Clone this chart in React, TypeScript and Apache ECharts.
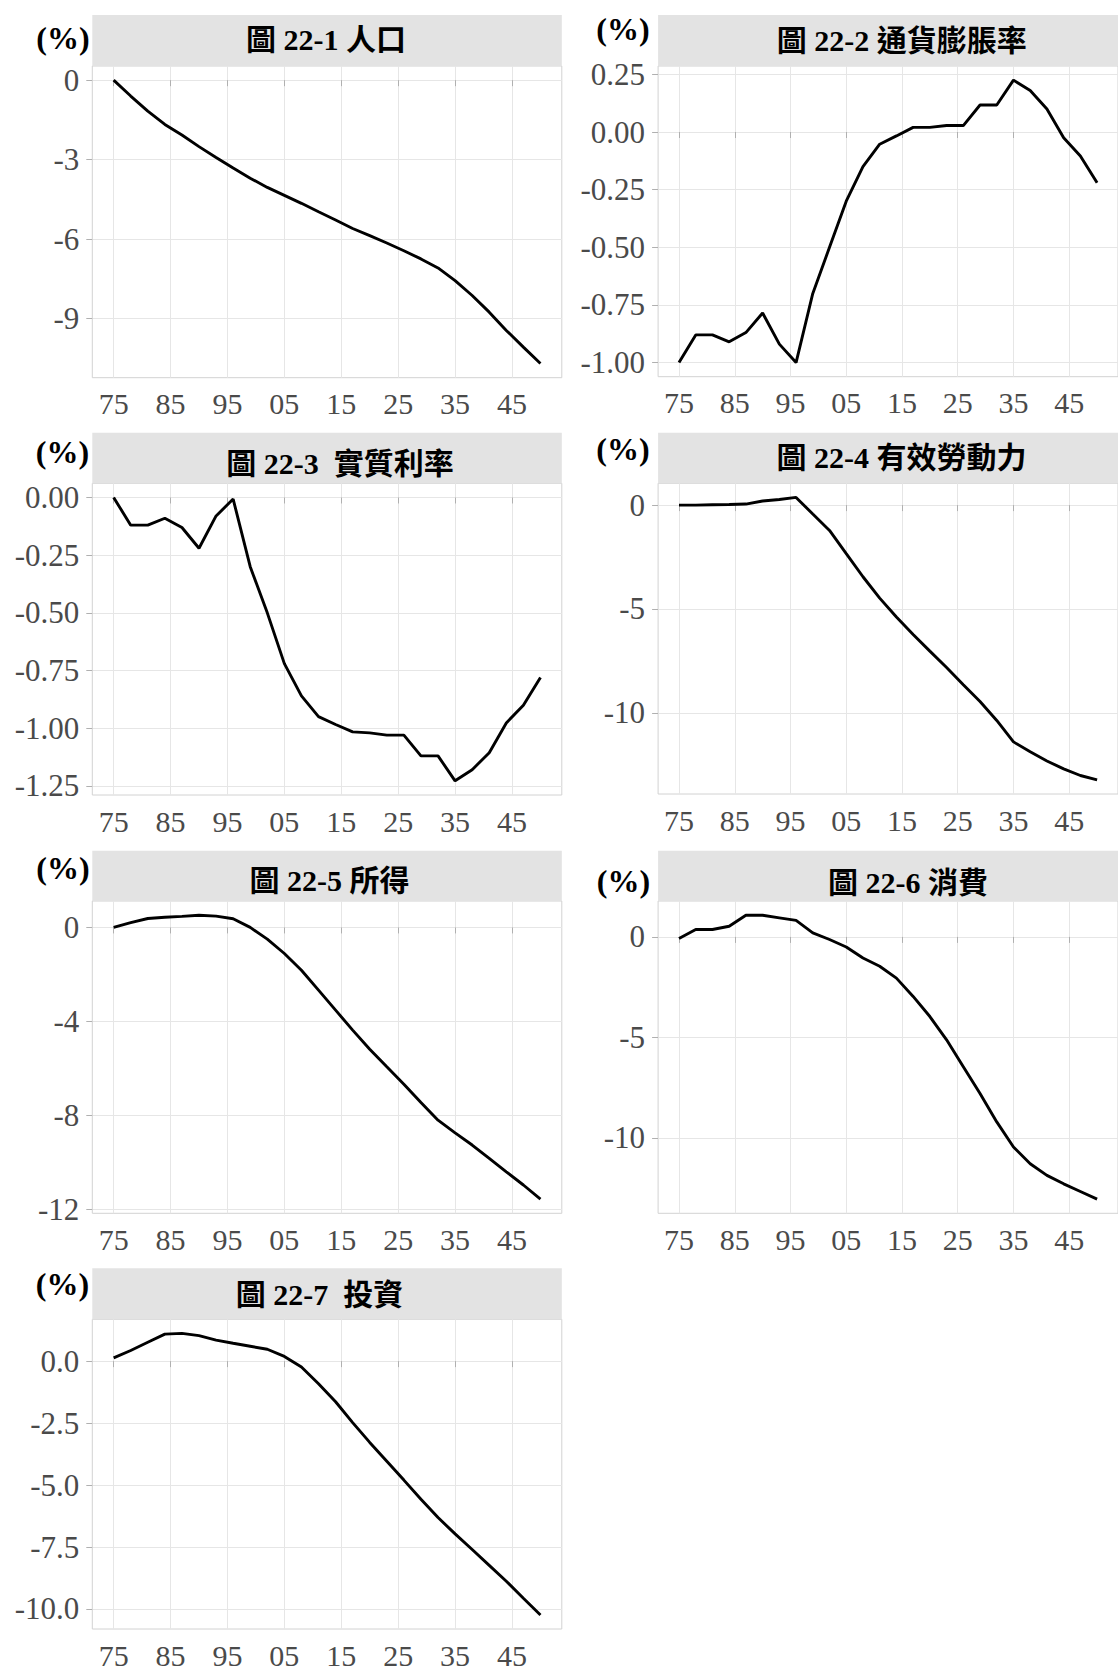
import React, { useEffect, useRef } from 'react';
import * as echarts from 'echarts';

// ---- data ----
const years = [1975, 1978, 1981, 1984, 1987, 1990, 1993, 1996, 1999, 2002, 2005, 2008, 2011, 2014, 2017, 2020, 2023, 2026, 2029, 2032, 2035, 2038, 2041, 2044, 2047, 2050];
const xTicks = [1975, 1985, 1995, 2005, 2015, 2025, 2035, 2045];

const population = [0, -0.6, -1.17, -1.67, -2.07, -2.51, -2.92, -3.32, -3.7, -4.05, -4.35, -4.65, -4.97, -5.28, -5.6, -5.87, -6.15, -6.44, -6.75, -7.09, -7.57, -8.13, -8.76, -9.45, -10.08, -10.7];
const inflation = [-1.0, -0.88, -0.88, -0.91, -0.87, -0.785, -0.92, -1.0, -0.7, -0.5, -0.3, -0.15, -0.053, -0.017, 0.02, 0.02, 0.028, 0.028, 0.117, 0.117, 0.225, 0.18, 0.1, -0.025, -0.104, -0.22];
const realRate = [0, -0.12, -0.12, -0.09, -0.13, -0.22, -0.08, -0.007, -0.3, -0.5, -0.72, -0.86, -0.95, -0.984, -1.016, -1.02, -1.03, -1.03, -1.12, -1.12, -1.228, -1.18, -1.106, -0.977, -0.9, -0.78];
const labor = [0, 0, 0.02, 0.03, 0.05, 0.2, 0.27, 0.37, -0.43, -1.22, -2.34, -3.45, -4.48, -5.39, -6.23, -7.03, -7.82, -8.65, -9.46, -10.37, -11.4, -11.88, -12.32, -12.7, -13.02, -13.23];
const income = [0, 0.2, 0.38, 0.43, 0.47, 0.52, 0.48, 0.37, 0, -0.5, -1.11, -1.82, -2.67, -3.52, -4.37, -5.18, -5.93, -6.67, -7.45, -8.2, -8.74, -9.26, -9.83, -10.4, -10.96, -11.56];
const consumption = [-0.08, 0.37, 0.37, 0.53, 1.08, 1.08, 0.95, 0.82, 0.2, -0.13, -0.5, -1.05, -1.46, -2.05, -2.96, -3.96, -5.12, -6.46, -7.79, -9.2, -10.45, -11.28, -11.86, -12.28, -12.66, -13.04];
const investment = [0.13, 0.43, 0.76, 1.09, 1.12, 1.03, 0.85, 0.72, 0.6, 0.48, 0.19, -0.24, -0.91, -1.64, -2.48, -3.28, -4.04, -4.8, -5.57, -6.31, -6.97, -7.6, -8.24, -8.88, -9.57, -10.24];

const titles = ['圖 22-1 人口', '圖 22-2 通貨膨脹率', '圖 22-3  實質利率', '圖 22-4 有效勞動力', '圖 22-5 所得', '圖 22-6 消費', '圖 22-7  投資'];
const unitLabel = '(%)';

const yTicks1 = [0, -3, -6, -9];
const yTicks2 = [0.25, 0, -0.25, -0.5, -0.75, -1];
const yTicks3 = [0, -0.25, -0.5, -0.75, -1, -1.25];
const yTicks4 = [0, -5, -10];
const yTicks5 = [0, -4, -8, -12];
const yTicks6 = [0, -5, -10];
const yTicks7 = [0, -2.5, -5, -7.5, -10];
const yDecimals = [0, 2, 2, 0, 0, 0, 1];

const seriesList = [population, inflation, realRate, labor, income, consumption, investment];
const yTickList = [yTicks1, yTicks2, yTicks3, yTicks4, yTicks5, yTicks6, yTicks7];

// ---- layout (px) ----
const LEFT_COL = { left: 92.3, width: 469.5 };
const RIGHT_COL = { left: 658.1, width: 468.2 };
const layout = [
  { col: LEFT_COL, stripTop: 15, top: 66, bottom: 377.7, tx: 326, ty: 39.5, ux: 63, uy: 37.5 },
  { col: RIGHT_COL, stripTop: 15, top: 66, bottom: 376.7, tx: 901.8, ty: 40, ux: 623, uy: 29 },
  { col: LEFT_COL, stripTop: 432.7, top: 483.3, bottom: 795, tx: 340, ty: 463, ux: 62.5, uy: 451.5 },
  { col: RIGHT_COL, stripTop: 432.7, top: 483.3, bottom: 794, tx: 901.4, ty: 457.5, ux: 623, uy: 449 },
  { col: LEFT_COL, stripTop: 850.7, top: 901, bottom: 1213.3, tx: 329.5, ty: 880.5, ux: 63, uy: 868 },
  { col: RIGHT_COL, stripTop: 850.7, top: 901, bottom: 1213.3, tx: 908, ty: 882, ux: 623.5, uy: 881 },
  { col: LEFT_COL, stripTop: 1268.3, top: 1319.3, bottom: 1630.7, tx: 319.6, ty: 1294, ux: 62.5, uy: 1284 },
];

const SERIF = "'Liberation Serif', 'Times New Roman', serif";
const TITLE_FONT = "'Liberation Serif', 'Noto Sans CJK TC', serif";
const LABEL_COLOR = '#4a4a4a';
const GRID_COLOR = '#e6e6e6';
const TICK_COLOR = '#b0b0b0';
const BORDER_COLOR = '#d2d2d2';
const STRIP_COLOR = '#e3e3e3';

function buildOption() {
  const grid: any[] = [];
  const xAxis: any[] = [];
  const yAxis: any[] = [];
  const series: any[] = [];
  const graphic: any[] = [];

  layout.forEach((p, i) => {
    const vals = seriesList[i];
    const lo = Math.min(...vals);
    const hi = Math.max(...vals);
    const pad = (hi - lo) * 0.05;
    const dec = yDecimals[i];

    grid.push({
      left: p.col.left,
      top: p.top,
      width: p.col.width,
      height: p.bottom - p.top,
      show: true,
      borderColor: BORDER_COLOR,
      borderWidth: 1,
      backgroundColor: '#ffffff',
    });
    xAxis.push({
      gridIndex: i,
      type: 'value',
      min: 1971.25,
      max: 2053.75,
      axisLine: { show: false },
      axisTick: { show: true, length: 6, customValues: xTicks, lineStyle: { color: TICK_COLOR, width: 1 } },
      axisLabel: {
        customValues: xTicks,
        formatter: (v: number) => String(Math.round(v) % 100).padStart(2, '0'),
        color: LABEL_COLOR,
        fontSize: 30,
        fontFamily: SERIF,
        margin: 11,
      },
      splitLine: { show: true, lineStyle: { color: GRID_COLOR, width: 1 } },
    });
    yAxis.push({
      gridIndex: i,
      type: 'value',
      min: lo - pad,
      max: hi + pad,
      axisLine: { show: false },
      axisTick: { show: true, length: 6, customValues: yTickList[i], lineStyle: { color: TICK_COLOR, width: 1 } },
      axisLabel: {
        customValues: yTickList[i],
        formatter: (v: number) => v.toFixed(dec),
        color: LABEL_COLOR,
        fontSize: 31,
        fontFamily: SERIF,
        margin: 13,
      },
      splitLine: { show: true, lineStyle: { color: GRID_COLOR, width: 1 } },
    });
    series.push({
      type: 'line',
      xAxisIndex: i,
      yAxisIndex: i,
      data: years.map((y, k) => [y, vals[k]]),
      showSymbol: false,
      symbol: 'none',
      lineStyle: { color: '#000000', width: 2.9 },
      smooth: false,
    });

    graphic.push({
      type: 'rect',
      shape: { x: p.col.left, y: p.stripTop, width: p.col.width, height: p.top - p.stripTop },
      style: { fill: STRIP_COLOR },
      silent: true,
    });
    graphic.push({
      type: 'text',
      x: p.tx,
      y: p.ty,
      style: {
        text: titles[i],
        fill: '#000000',
        fontSize: 30,
        fontWeight: 'bold',
        fontFamily: TITLE_FONT,
        align: 'center',
        verticalAlign: 'middle',
      },
      silent: true,
    });
    graphic.push({
      type: 'text',
      x: p.ux,
      y: p.uy,
      style: {
        text: unitLabel,
        fill: '#000000',
        fontSize: 32,
        fontWeight: 'bold',
        fontFamily: SERIF,
        align: 'center',
        verticalAlign: 'middle',
      },
      silent: true,
    });
  });

  return {
    animation: false,
    backgroundColor: '#ffffff',
    grid,
    xAxis,
    yAxis,
    series,
    graphic,
  };
}

export default function App() {
  const ref = useRef<HTMLDivElement>(null);
  useEffect(() => {
    if (!ref.current) return;
    const chart = echarts.init(ref.current, undefined, { renderer: 'svg' });
    chart.setOption(buildOption() as any);
    return () => chart.dispose();
  }, []);
  return (
    <div
      ref={ref}
      style={{ position: 'absolute', left: 0, top: 0, width: 1118, height: 1670, background: '#ffffff' }}
    />
  );
}
